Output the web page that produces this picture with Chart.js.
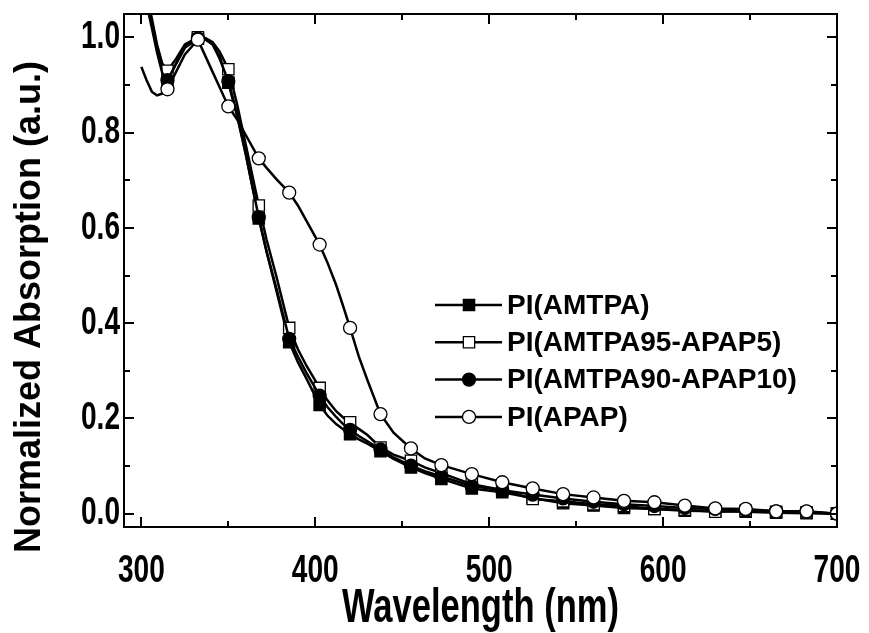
<!DOCTYPE html>
<html>
<head>
<meta charset="utf-8">
<script src="https://cdn.jsdelivr.net/npm/chart.js@4/dist/chart.umd.min.js"></script>
<style>
html,body{margin:0;padding:0;background:#fff;}
canvas{display:block;}
</style>
</head>
<body>
<canvas id="c" width="869" height="633"></canvas>
<script>
// ---------- data ----------
const wavelengths = [300, 303, 306, 309, 312, 315, 320, 325, 332.5, 337, 341, 345, 350, 355, 360, 367.5, 372, 377.5, 385, 390, 395, 402.5, 407, 412, 416, 420, 425, 430, 437.5, 445, 455, 463, 472.5, 490, 507.5, 525, 542.5, 560, 577.5, 595, 612.5, 630, 647.5, 665, 682.5, 700];

const absAMTPA = [1.14, 1.08, 1.03, 0.975, 0.93, 0.908, 0.945, 0.978, 0.997, 0.995, 0.985, 0.96, 0.905, 0.835, 0.755, 0.62, 0.55, 0.47, 0.36, 0.318, 0.283, 0.228, 0.206, 0.188, 0.177, 0.167, 0.156, 0.147, 0.131, 0.115, 0.097, 0.085, 0.073, 0.053, 0.045, 0.033, 0.022, 0.017, 0.012, 0.010, 0.006, 0.005, 0.004, 0.002, 0.001, 0.000];

const absAMTPA95 = [1.15, 1.09, 1.04, 0.985, 0.945, 0.930, 0.955, 0.985, 1.000, 0.998, 0.990, 0.970, 0.933, 0.860, 0.775, 0.647, 0.575, 0.500, 0.390, 0.345, 0.310, 0.264, 0.238, 0.215, 0.202, 0.192, 0.178, 0.165, 0.139, 0.124, 0.111, 0.097, 0.085, 0.062, 0.050, 0.031, 0.026, 0.020, 0.016, 0.010, 0.008, 0.004, 0.006, 0.004, 0.003, 0.000];

const absAMTPA90 = [1.13, 1.07, 1.02, 0.968, 0.925, 0.910, 0.945, 0.980, 0.998, 0.996, 0.985, 0.955, 0.908, 0.840, 0.755, 0.622, 0.550, 0.475, 0.367, 0.330, 0.295, 0.248, 0.224, 0.203, 0.188, 0.176, 0.163, 0.152, 0.135, 0.118, 0.101, 0.089, 0.078, 0.058, 0.049, 0.040, 0.032, 0.025, 0.020, 0.016, 0.012, 0.010, 0.008, 0.005, 0.004, 0.000];

const absAPAP = [0.938, 0.910, 0.886, 0.878, 0.882, 0.891, 0.928, 0.964, 0.995, 0.959, 0.927, 0.895, 0.855, 0.828, 0.795, 0.746, 0.726, 0.703, 0.674, 0.647, 0.614, 0.565, 0.527, 0.480, 0.436, 0.390, 0.330, 0.280, 0.209, 0.170, 0.137, 0.116, 0.102, 0.083, 0.066, 0.053, 0.041, 0.034, 0.027, 0.024, 0.017, 0.011, 0.010, 0.005, 0.005, 0.000];

const markerWavelengths = [315, 332.5, 350, 367.5, 385, 402.5, 420, 437.5, 455, 472.5, 490, 507.5, 525, 542.5, 560, 577.5, 595, 612.5, 630, 647.5, 665, 682.5, 700];

const seriesNames = ['PI(AMTPA)', 'PI(AMTPA95-APAP5)', 'PI(AMTPA90-APAP10)', 'PI(APAP)'];

const xTicks = [300, 400, 500, 600, 700];
const xMinorTicks = [350, 450, 550, 650];
const yTicks = [0.0, 0.2, 0.4, 0.6, 0.8, 1.0];
const yMinorTicks = [0.1, 0.3, 0.5, 0.7, 0.9];

const xTitle = 'Wavelength (nm)';
const yTitle = 'Normalized Absorption (a.u.)';

// ---------- styling ----------
const FAMILY = "'Liberation Sans', Arial, Helvetica, sans-serif";
const SX = 0.72; // horizontal condensing of the horizontal axis texts
let condense = true;

const canvas = document.getElementById('c');
const origFill = CanvasRenderingContext2D.prototype.fillText;
CanvasRenderingContext2D.prototype.fillText = function (text, x, y, maxWidth) {
  if (condense && this.canvas === canvas) {
    const t = this.getTransform();
    if (Math.abs(t.b) < 1e-6 && Math.abs(t.c) < 1e-6) {
      this.save();
      this.translate(x, y);
      this.scale(SX, 1);
      if (maxWidth !== undefined) origFill.call(this, text, 0, 0, maxWidth / SX);
      else origFill.call(this, text, 0, 0);
      this.restore();
      return;
    }
  }
  if (maxWidth !== undefined) return origFill.call(this, text, x, y, maxWidth);
  return origFill.call(this, text, x, y);
};

const markerSet = new Set(markerWavelengths);
function toPoints(ys) { return wavelengths.map((w, i) => ({ x: w, y: ys[i] })); }

const styles = [
  { pointStyle: 'rect', fill: '#000', r: 8 },
  { pointStyle: 'rect', fill: '#fff', r: 8 },
  { pointStyle: 'circle', fill: '#000', r: 6.5 },
  { pointStyle: 'circle', fill: '#fff', r: 6.5 }
];
const seriesValues = [absAMTPA, absAMTPA95, absAMTPA90, absAPAP];
const orders = [4, 3, 2, 1];

const datasets = seriesValues.map((vals, i) => ({
  label: seriesNames[i],
  data: toPoints(vals),
  borderColor: '#000',
  borderWidth: 2.5,
  tension: 0,
  fill: false,
  order: orders[i],
  pointStyle: styles[i].pointStyle,
  pointBackgroundColor: styles[i].fill,
  pointBorderColor: '#000',
  pointBorderWidth: 1.3,
  pointRadius: ctx => (ctx.raw && markerSet.has(ctx.raw.x)) ? styles[i].r : 0,
  pointHoverRadius: ctx => (ctx.raw && markerSet.has(ctx.raw.x)) ? styles[i].r : 0,
  pointHitRadius: 0
}));

const decoPlugin = {
  id: 'deco',
  beforeDraw() { condense = true; },
  afterDraw(chart) {
    const ctx = chart.ctx;
    const { left, right, top, bottom } = chart.chartArea;
    const xs = chart.scales.x, ys = chart.scales.y;
    ctx.save();
    ctx.strokeStyle = '#000';
    ctx.lineWidth = 2;
    ctx.strokeRect(left, top, right - left, bottom - top);
    const MAJ = 10, MIN = 6;
    ctx.beginPath();
    xTicks.concat(xMinorTicks).forEach(v => {
      const len = xTicks.includes(v) ? MAJ : MIN;
      const px = Math.round(xs.getPixelForValue(v));
      ctx.moveTo(px, bottom); ctx.lineTo(px, bottom - len);
      ctx.moveTo(px, top); ctx.lineTo(px, top + len);
    });
    yTicks.concat(yMinorTicks).forEach(v => {
      const len = yTicks.includes(v) ? MAJ : MIN;
      const py = Math.round(ys.getPixelForValue(v));
      ctx.moveTo(left, py); ctx.lineTo(left + len, py);
      ctx.moveTo(right, py); ctx.lineTo(right - len, py);
    });
    ctx.stroke();

    condense = false;
    // y title
    ctx.save();
    ctx.translate(30, 307);
    ctx.rotate(-Math.PI / 2);
    ctx.fillStyle = '#000';
    ctx.font = "bold 36px " + FAMILY;
    ctx.textAlign = 'center';
    ctx.textBaseline = 'middle';
    ctx.fillText(yTitle, 0, 0);
    ctx.restore();

    // legend
    const rowY0 = 305, rowDY = 37.3;
    ctx.font = "bold 28px " + FAMILY;
    ctx.textAlign = 'left';
    ctx.textBaseline = 'middle';
    seriesNames.forEach((name, i) => {
      const y = rowY0 + i * rowDY;
      ctx.strokeStyle = '#000';
      ctx.lineWidth = 2.5;
      ctx.beginPath();
      ctx.moveTo(435, y); ctx.lineTo(502, y);
      ctx.stroke();
      ctx.fillStyle = styles[i].fill;
      ctx.strokeStyle = '#000';
      ctx.lineWidth = 1.3;
      Chart.helpers.drawPoint(ctx, { pointStyle: styles[i].pointStyle, rotation: 0, radius: styles[i].r, borderWidth: 1.3 }, 469, y);
      ctx.fillStyle = '#000';
      ctx.fillText(name, 507, y + 1);
    });
    ctx.restore();
    condense = true;
  }
};

const tickFont = { family: FAMILY, size: 39, weight: 'bold', lineHeight: 1 };

new Chart(canvas.getContext('2d'), {
  type: 'line',
  data: { datasets },
  options: {
    responsive: false,
    animation: false,
    devicePixelRatio: 1,
    events: [],
    layout: { padding: { top: 14, right: 32, left: 0, bottom: 0 } },
    plugins: { legend: { display: false }, tooltip: { enabled: false } },
    scales: {
      x: {
        type: 'linear',
        min: 290,
        max: 700,
        afterBuildTicks: s => { s.ticks = xTicks.map(v => ({ value: v })); },
        afterFit: s => { s.height = 106; s.paddingLeft = 0; s.paddingRight = 0; },
        grid: { display: false, drawTicks: false },
        border: { display: false },
        ticks: { color: '#000', font: tickFont, padding: 25, maxRotation: 0, minRotation: 0, autoSkip: false,
                 callback: v => String(v) },
        title: { display: true, text: xTitle, color: '#000',
                 font: { family: FAMILY, size: 48, weight: 'bold', lineHeight: 1 },
                 padding: { top: 0, bottom: 0 } }
      },
      y: {
        type: 'linear',
        min: -0.028,
        max: 1.049,
        afterBuildTicks: s => { s.ticks = yTicks.map(v => ({ value: v })); },
        afterFit: s => { s.width = 124; s.paddingTop = 0; s.paddingBottom = 0; },
        grid: { display: false, drawTicks: false },
        border: { display: false },
        ticks: { color: '#000', font: tickFont, padding: 4, callback: v => Number(v).toFixed(1) }
      }
    }
  },
  plugins: [decoPlugin]
});
</script>
</body>
</html>
